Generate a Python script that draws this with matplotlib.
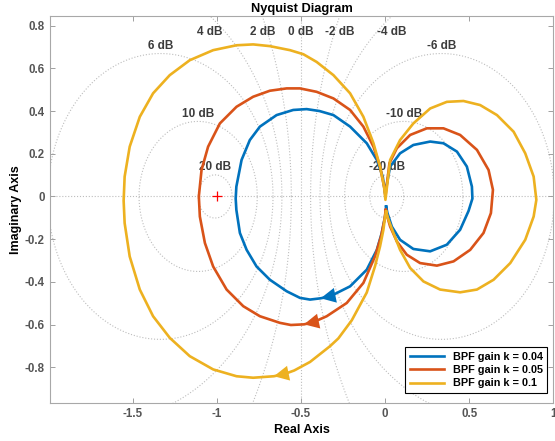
import numpy as np
import matplotlib
matplotlib.use("Agg")
import matplotlib.pyplot as plt

plt.rcParams['font.family'] = ['Liberation Sans', 'DejaVu Sans']
plt.rcParams['axes.unicode_minus'] = False

## values
## each curve: lower tip at origin -> lower-left arc -> upper-left arc
## -> upper tip -> right loop -> back to the lower tip
series_labels = ['BPF gain k = 0.04', 'BPF gain k = 0.05', 'BPF gain k = 0.1']
series_colors = ['#0072BD', '#D95319', '#EDB120']

k004_re = [0.006, 0.0, -0.020, -0.049, -0.109, -0.208, -0.327, -0.383, -0.446,
           -0.506, -0.585, -0.685, -0.764, -0.823, -0.863, -0.884, -0.888, -0.884,
           -0.853, -0.804, -0.744, -0.645, -0.546, -0.466, -0.390, -0.307, -0.208,
           -0.109, -0.049, -0.014, 0.0,
           0.030, 0.089, 0.168, 0.268, 0.347, 0.427, 0.486, 0.516, 0.519, 0.496,
           0.446, 0.367, 0.268, 0.168, 0.089, 0.040, 0.014, 0.006]
k004_im = [-0.047, -0.094, -0.172, -0.250, -0.343, -0.421, -0.468, -0.477, -0.483,
           -0.475, -0.444, -0.390, -0.328, -0.250, -0.171, -0.063, -0.010, 0.046,
           0.171, 0.264, 0.327, 0.381, 0.405, 0.409, 0.400, 0.381, 0.327,
           0.249, 0.171, 0.093, 0.015,
           0.140, 0.202, 0.241, 0.257, 0.249, 0.210, 0.140, 0.046, -0.010, -0.068,
           -0.156, -0.226, -0.257, -0.246, -0.203, -0.141, -0.078, -0.047]

k005_re = [0.004, -0.004, -0.024, -0.060, -0.129, -0.228, -0.347, -0.430, -0.482,
           -0.560, -0.625, -0.744, -0.843, -0.942, -1.022, -1.071, -1.101, -1.107,
           -1.091, -1.052, -0.982, -0.883, -0.784, -0.685, -0.585, -0.506, -0.407,
           -0.307, -0.208, -0.129, -0.069, -0.030, -0.006, 0.002,
           0.026, 0.070, 0.149, 0.248, 0.347, 0.446, 0.546, 0.615, 0.641, 0.629,
           0.585, 0.506, 0.407, 0.308, 0.208, 0.129, 0.070, 0.030, 0.010, 0.004]
k005_im = [-0.063, -0.109, -0.187, -0.281, -0.405, -0.499, -0.561, -0.590, -0.599,
           -0.602, -0.592, -0.561, -0.514, -0.436, -0.328, -0.218, -0.094, 0.000,
           0.124, 0.233, 0.342, 0.420, 0.467, 0.495, 0.506, 0.506, 0.490,
           0.459, 0.405, 0.327, 0.233, 0.140, 0.046, 0.000,
           0.156, 0.226, 0.288, 0.319, 0.319, 0.288, 0.218, 0.124, 0.031, -0.078,
           -0.171, -0.250, -0.304, -0.324, -0.312, -0.273, -0.211, -0.141, -0.086, -0.063]

k01_re = [0.006, 0.0, -0.010, -0.030, -0.060, -0.109, -0.198, -0.278, -0.327,
          -0.446, -0.540, -0.600, -0.661, -0.784, -0.883, -1.022, -1.161, -1.280,
          -1.379, -1.458, -1.518, -1.548, -1.554, -1.548, -1.518, -1.458, -1.379,
          -1.280, -1.161, -1.022, -0.883, -0.784, -0.685, -0.565, -0.486, -0.407,
          -0.307, -0.208, -0.129, -0.069, -0.030, -0.006, 0.002,
          0.030, 0.089, 0.168, 0.268, 0.367, 0.466, 0.565, 0.665, 0.764, 0.833,
          0.883, 0.899, 0.883, 0.833, 0.744, 0.645, 0.546, 0.446, 0.327, 0.228,
          0.149, 0.089, 0.050, 0.020, 0.006]
k01_im = [-0.070, -0.094, -0.156, -0.234, -0.327, -0.450, -0.580, -0.665, -0.701,
          -0.775, -0.815, -0.832, -0.842, -0.849, -0.842, -0.810, -0.748, -0.662,
          -0.561, -0.436, -0.281, -0.125, -0.020, 0.093, 0.233, 0.373, 0.483,
          0.568, 0.638, 0.685, 0.708, 0.712, 0.704, 0.685, 0.666, 0.630,
          0.568, 0.483, 0.373, 0.249, 0.140, 0.046, -0.016,
          0.171, 0.264, 0.342, 0.412, 0.443, 0.447, 0.428, 0.381, 0.303, 0.202,
          0.093, -0.016, -0.094, -0.203, -0.312, -0.390, -0.436, -0.449, -0.436, -0.398,
          -0.335, -0.250, -0.172, -0.109, -0.070]

## index of the arrow tip on each curve (arrow points from index-1 to index)
arrow_idx = [7, 8, 12]

grid_db = [20, 10, 6, 4, 2, 0, -2, -4, -6, -10, -20]
x_ticks = [-1.5, -1, -0.5, 0, 0.5, 1]
x_ticklabels = ['-1.5', '-1', '-0.5', '0', '0.5', '1']
y_ticks = [-0.8, -0.6, -0.4, -0.2, 0, 0.2, 0.4, 0.6, 0.8]
y_ticklabels = ['-0.8', '-0.6', '-0.4', '-0.2', '0', '0.2', '0.4', '0.6', '0.8']

xlim = (-1.99, 1.0)
ylim = (-0.966, 0.845)

fig = plt.figure(figsize=(5.55, 4.41), dpi=100)
ax = fig.add_axes([0.0906, 0.0868, 0.9064, 0.8769])

grid_col = '#bdbdbd'
label_col = '#3c3c3c'

# M-circles of the nyquist grid
theta = np.linspace(0, 2 * np.pi, 600)
for db in grid_db:
  if db == 0:
    ax.axvline(-0.5, color=grid_col, ls=':', lw=0.8, zorder=1)
    lx, ly = -0.5, ylim[1] - 0.075
  else:
    M = 10 ** (db / 20.0)
    c = -M ** 2 / (M ** 2 - 1)
    r = abs(M / (M ** 2 - 1))
    ax.plot(c + r * np.cos(theta), r * np.sin(theta), color=grid_col, ls=':', lw=0.8, zorder=1)
    if r < ylim[1] - 0.1:
      lx, ly = c, r + 0.035
    else:
      side = 1 if db > 0 else -1
      lx, ly = c + side * np.sqrt(r ** 2 - ylim[1] ** 2), ylim[1] - 0.075
  ax.text(lx, ly, '%d dB' % db, ha='center', va='center', fontsize=8.5,
          fontweight='bold', color=label_col, zorder=2)
ax.axhline(0, color=grid_col, ls=':', lw=0.8, zorder=1)

curves = [(k004_re, k004_im), (k005_re, k005_im), (k01_re, k01_im)]
for (re, im), lab, col, ai in zip(curves, series_labels, series_colors, arrow_idx):
  ax.plot(re, im, color=col, lw=1.9, label=lab, zorder=3, solid_joinstyle='round')
  ax.annotate('', xy=(re[ai], im[ai]), xytext=(re[ai - 1], im[ai - 1]),
              arrowprops=dict(arrowstyle='-|>,head_length=0.9,head_width=0.45',
                              color=col, lw=0, shrinkA=0, shrinkB=0,
                              mutation_scale=12), zorder=4)

ax.plot([-1], [0], marker='+', color='red', ms=7, mew=0.9, zorder=4)

ax.set_xlim(*xlim)
ax.set_ylim(*ylim)
ax.set_xticks(x_ticks)
ax.set_xticklabels(x_ticklabels)
ax.set_yticks(y_ticks)
ax.set_yticklabels(y_ticklabels)
ax.tick_params(direction='in', length=3.5, width=0.7, top=True, right=True,
               colors='#a0a0a0', labelcolor='#555555', labelsize=8.3, pad=4)
for lbl in ax.get_xticklabels() + ax.get_yticklabels():
  lbl.set_fontweight('bold')
for sp in ax.spines.values():
  sp.set_color('#a8a8a8')
  sp.set_linewidth(0.8)

ax.set_title('Nyquist Diagram', fontsize=9.3, fontweight='bold', pad=3)
ax.set_xlabel('Real Axis', fontsize=9, fontweight='bold', labelpad=3)
ax.set_ylabel('Imaginary Axis', fontsize=9, fontweight='bold', labelpad=2)

leg = ax.legend(loc='lower right', bbox_to_anchor=(0.988, 0.026), borderaxespad=0,
                prop={'weight': 'bold', 'size': 7.8}, frameon=True, fancybox=False,
                edgecolor='black', framealpha=1, handlelength=3.2,
                labelspacing=0.3, borderpad=0.4, handletextpad=0.8)
leg.get_frame().set_linewidth(0.8)

fig.savefig('out.png', dpi=100)
